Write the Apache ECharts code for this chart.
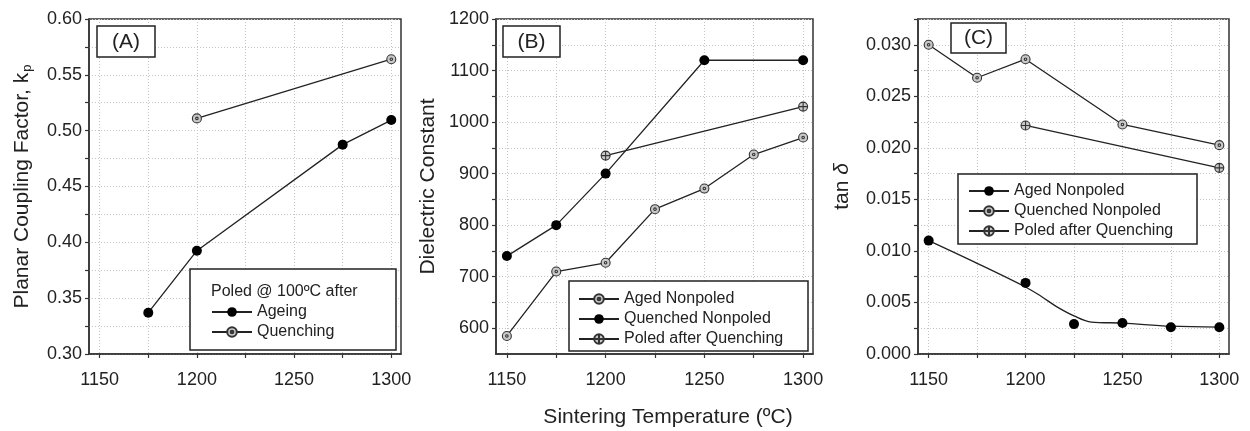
<!DOCTYPE html>
<html>
<head>
<meta charset="utf-8">
<script src="https://cdn.jsdelivr.net/npm/echarts@6/dist/echarts.min.js"></script>
<style>
html,body{margin:0;padding:0;background:#fff;}
#chart{width:1250px;height:431px;}
</style>
</head>
<body>
<div id="chart"></div>
<script>
// ---------- data ----------
const xTickValues = [1150, 1175, 1200, 1225, 1250, 1275, 1300];
const xLabelValues = [1150, 1200, 1250, 1300];

const aTickValues = [0.30, 0.325, 0.35, 0.375, 0.40, 0.425, 0.45, 0.475, 0.50, 0.525, 0.55, 0.575, 0.60];
const aLabelValues = [0.30, 0.35, 0.40, 0.45, 0.50, 0.55, 0.60];
const bTickValues = [600, 650, 700, 750, 800, 850, 900, 950, 1000, 1050, 1100, 1150, 1200];
const bLabelValues = [600, 700, 800, 900, 1000, 1100, 1200];
const cTickValues = [0, 0.0025, 0.005, 0.0075, 0.01, 0.0125, 0.015, 0.0175, 0.02, 0.0225, 0.025, 0.0275, 0.03, 0.0325];
const cLabelValues = [0, 0.005, 0.010, 0.015, 0.020, 0.025, 0.030];

// Panel A – planar coupling factor
const aAgeingX = [1175, 1200, 1275, 1300];
const aAgeingY = [0.337, 0.3925, 0.4875, 0.5095];
const aQuenchX = [1200, 1300];
const aQuenchY = [0.511, 0.564];

// Panel B – dielectric constant
const bAgedX = [1150, 1175, 1200, 1225, 1250, 1275, 1300];
const bAgedY = [585, 710, 727, 831, 871, 937, 970];
const bQuenchedX = [1150, 1175, 1200, 1250, 1300];
const bQuenchedY = [740, 800, 900, 1120, 1120];
const bPoledX = [1200, 1300];
const bPoledY = [935, 1030];

// Panel C – tan delta
const cAgedX = [1150, 1200, 1225, 1250, 1275, 1300];
const cAgedY = [0.0110, 0.0069, 0.0029, 0.0030, 0.0026, 0.0026];
const cAgedFitX = [1150, 1175, 1200, 1208, 1216, 1225, 1234, 1250, 1275, 1300];
const cAgedFitY = [0.0110, 0.0088, 0.0065, 0.0056, 0.0046, 0.0037, 0.0031, 0.0030, 0.0027, 0.0026];
const cQuenchedX = [1150, 1175, 1200, 1250, 1300];
const cQuenchedY = [0.0300, 0.0268, 0.0286, 0.02227, 0.02026];
const cPoledX = [1200, 1300];
const cPoledY = [0.02217, 0.01806];

// ---------- styling ----------
const FONT = "'Liberation Sans', Arial, Helvetica, sans-serif";
const INK = '#222';
const AXIS = '#333';
const GRIDC = '#c4c4c4';
const GRAY = '#c8c8c8';
const DOT_SYM = 'path://M0,10A10,10,0,1,1,20,10A10,10,0,1,1,0,10ZM7.2,10A2.8,2.8,0,1,1,12.8,10A2.8,2.8,0,1,1,7.2,10Z';
const CROSS_SYM = 'path://M0,10A10,10,0,1,1,20,10A10,10,0,1,1,0,10ZM10,0L10,20M0,10L20,10';

const zip = (xs, ys) => xs.map((x, i) => [x, ys[i]]);

const grids = [
  {left: 89, top: 19, width: 312, height: 335},
  {left: 496, top: 19, width: 317, height: 335},
  {left: 918, top: 19, width: 311, height: 335}
].map(g => Object.assign({show: true, borderColor: AXIS, borderWidth: 1.5, backgroundColor: 'transparent'}, g));

function xAxis(i) {
  return {
    type: 'value', gridIndex: i, min: 1144.5, max: 1305,
    axisLine: {show: true, lineStyle: {color: AXIS, width: 1.5}},
    axisTick: {show: true, inside: false, length: 4, customValues: xTickValues, lineStyle: {color: AXIS, width: 1.2}},
    axisLabel: {customValues: xLabelValues, margin: 17, fontSize: 18, color: INK, fontFamily: FONT,
      formatter: v => String(v)},
    splitLine: {show: true, lineStyle: {color: GRIDC, type: [1, 2], width: 1}}
  };
}
function yAxis(i, min, max, ticks, labels, fmt, name, nameGap) {
  return {
    type: 'value', gridIndex: i, min: min, max: max,
    name: name, nameLocation: 'middle', nameRotate: 90, nameGap: nameGap,
    nameTextStyle: {fontSize: 21, color: INK, fontFamily: FONT,
      rich: {
        n: {fontSize: 21, color: INK, fontFamily: FONT, lineHeight: 28},
        sub: {fontSize: 13, color: INK, fontFamily: FONT, lineHeight: 13, verticalAlign: 'bottom', padding: [0, 0, 2, 1]},
        it: {fontSize: 21, color: INK, fontFamily: FONT, fontStyle: 'italic'}
      }},
    axisLine: {show: true, lineStyle: {color: AXIS, width: 1.5}},
    axisTick: {show: true, inside: false, length: 4, customValues: ticks, lineStyle: {color: AXIS, width: 1.2}},
    axisLabel: {customValues: labels, margin: 7, fontSize: 18, color: INK, fontFamily: FONT, formatter: fmt},
    splitLine: {show: true, lineStyle: {color: GRIDC, type: [1, 2], width: 1}}
  };
}

const lineBase = {type: 'line', lineStyle: {color: INK, width: 1.3}, emphasis: {disabled: true}, z: 3};
const blackMark = {symbol: 'circle', symbolSize: 10, itemStyle: {color: '#000', borderColor: '#000', borderWidth: 0, opacity: 1}};
const dotMark = {symbol: DOT_SYM, symbolSize: 9, itemStyle: {color: GRAY, borderColor: AXIS, borderWidth: 1.1, opacity: 1}};
const crossMark = {symbol: CROSS_SYM, symbolSize: 9, itemStyle: {color: GRAY, borderColor: AXIS, borderWidth: 1.1, opacity: 1}};

const series = [
  Object.assign({}, lineBase, blackMark, {name: 'A|Ageing', xAxisIndex: 0, yAxisIndex: 0, data: zip(aAgeingX, aAgeingY)}),
  Object.assign({}, lineBase, dotMark, {name: 'A|Quenching', xAxisIndex: 0, yAxisIndex: 0, data: zip(aQuenchX, aQuenchY)}),

  Object.assign({}, lineBase, dotMark, {name: 'B|Aged Nonpoled', xAxisIndex: 1, yAxisIndex: 1, data: zip(bAgedX, bAgedY)}),
  Object.assign({}, lineBase, blackMark, {name: 'B|Quenched Nonpoled', xAxisIndex: 1, yAxisIndex: 1, data: zip(bQuenchedX, bQuenchedY)}),
  Object.assign({}, lineBase, crossMark, {name: 'B|Poled after Quenching', xAxisIndex: 1, yAxisIndex: 1, data: zip(bPoledX, bPoledY)}),

  Object.assign({}, lineBase, {name: 'C|Aged Nonpoled', xAxisIndex: 2, yAxisIndex: 2, smooth: 0.35, symbol: 'none',
    itemStyle: {color: '#000', opacity: 1}, data: zip(cAgedFitX, cAgedFitY)}),
  {type: 'scatter', name: 'C_points', xAxisIndex: 2, yAxisIndex: 2, symbol: 'circle', symbolSize: 10,
    itemStyle: {color: '#000', opacity: 1}, emphasis: {disabled: true}, z: 4, data: zip(cAgedX, cAgedY)},
  Object.assign({}, lineBase, dotMark, {name: 'C|Quenched Nonpoled', xAxisIndex: 2, yAxisIndex: 2, data: zip(cQuenchedX, cQuenchedY)}),
  Object.assign({}, lineBase, crossMark, {name: 'C|Poled after Quenching', xAxisIndex: 2, yAxisIndex: 2, data: zip(cPoledX, cPoledY)})
];

function legend(names, left, top) {
  return {
    data: names, orient: 'vertical', left: left, top: top, padding: 0,
    itemWidth: 40, itemHeight: 12, itemGap: 4, selectedMode: false,
    formatter: n => n.split('|')[1],
    textStyle: {fontSize: 16, color: INK, fontFamily: FONT}, z: 6
  };
}

function box(x, y, w, h) {
  return {type: 'rect', z: 5, shape: {x: x, y: y, width: w, height: h},
    style: {fill: '#fff', stroke: '#222', lineWidth: 1.5}};
}
function label(text, x, y, size, align) {
  return {type: 'text', z: 7, x: x, y: y,
    style: {text: text, fontSize: size, fill: INK, fontFamily: FONT, align: align || 'center', verticalAlign: 'middle'}};
}

const option = {
  animation: false,
  backgroundColor: '#fff',
  grid: grids,
  xAxis: [xAxis(0), xAxis(1), xAxis(2)],
  yAxis: [
    yAxis(0, 0.30, 0.60, aTickValues, aLabelValues, v => v.toFixed(2), '{n|Planar Coupling Factor, k}{sub|p}', 53),
    yAxis(1, 550, 1200, bTickValues, bLabelValues, v => String(v), 'Dielectric Constant', 57),
    yAxis(2, 0, 0.0325, cTickValues, cLabelValues, v => v.toFixed(3), '{n|tan }{it|δ}', 62)
  ],
  legend: [
    legend(['A|Ageing', 'A|Quenching'], 211, 304),
    legend(['B|Aged Nonpoled', 'B|Quenched Nonpoled', 'B|Poled after Quenching'], 578, 291),
    legend(['C|Aged Nonpoled', 'C|Quenched Nonpoled', 'C|Poled after Quenching'], 968, 183)
  ],
  graphic: [
    box(97, 26, 58, 31), label('(A)', 126, 42, 21),
    box(503, 26, 57, 31), label('(B)', 531.5, 42, 21),
    box(951, 23, 55, 30), label('(C)', 978.5, 38.5, 21),
    box(190, 269, 206, 81), label('Poled @ 100ºC after', 211, 292, 16, 'left'),
    box(569, 281, 239, 70),
    box(958, 174, 239, 70),
    label('Sintering Temperature (ºC)', 668, 417, 21)
  ],
  series: series
};

const chart = echarts.init(document.getElementById('chart'), null, {renderer: 'canvas'});
chart.setOption(option);
</script>
</body>
</html>
